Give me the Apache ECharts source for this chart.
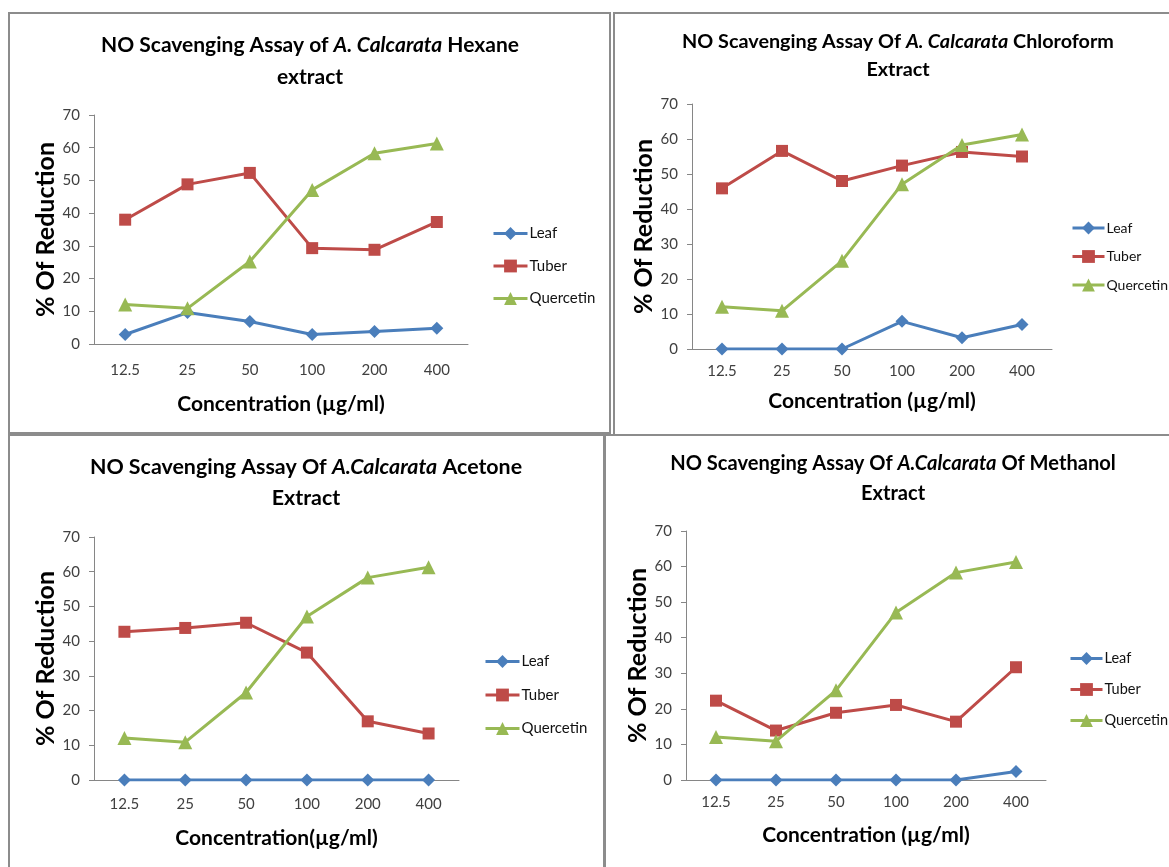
<!DOCTYPE html>
<html>
<head>
<meta charset="utf-8">
<script src="https://cdn.jsdelivr.net/npm/echarts@6/dist/echarts.min.js"></script>
<style>
html,body{margin:0;padding:0;background:#fff;}
#chart{width:1169px;height:867px;}
</style>
</head>
<body>
<div id="chart"></div>
<script>
// ---- Data ----
const categories = ['12.5', '25', '50', '100', '200', '400'];
const seriesNames = ['Leaf', 'Tuber', 'Quercetin'];
const yTicks = [0, 10, 20, 30, 40, 50, 60, 70];

const hexaneLeaf = [2.9, 9.6, 6.9, 2.9, 3.8, 4.8];
const hexaneTuber = [38.0, 48.8, 52.3, 29.3, 28.8, 37.3];
const hexaneQuercetin = [12.1, 10.9, 25.2, 47.1, 58.3, 61.3];

const chloroformLeaf = [0, 0, 0, 7.9, 3.2, 7.0];
const chloroformTuber = [45.9, 56.6, 48.0, 52.4, 56.3, 55.0];
const chloroformQuercetin = [12.1, 10.9, 25.2, 47.1, 58.3, 61.3];

const acetoneLeaf = [0, 0, 0, 0, 0, 0];
const acetoneTuber = [42.7, 43.8, 45.3, 36.7, 16.9, 13.4];
const acetoneQuercetin = [12.1, 10.9, 25.2, 47.1, 58.3, 61.3];

const methanolLeaf = [0, 0, 0, 0, 0, 2.4];
const methanolTuber = [22.3, 13.9, 18.9, 21.1, 16.4, 31.7];
const methanolQuercetin = [12.1, 10.9, 25.2, 47.1, 58.3, 61.3];

const titleParts = [
  ['NO Scavenging Assay of ', 'A. Calcarata', ' Hexane', 'extract'],
  ['NO Scavenging Assay Of ', 'A. Calcarata', ' Chloroform', 'Extract'],
  ['NO Scavenging Assay Of ', 'A.Calcarata', ' Acetone', 'Extract'],
  ['NO Scavenging Assay Of ', 'A.Calcarata', ' Of Methanol', 'Extract']
];
const xAxisTitles = ['Concentration (\u00b5g/ml)', 'Concentration (\u00b5g/ml)', 'Concentration(\u00b5g/ml)', 'Concentration (\u00b5g/ml)'];
const yAxisTitle = '% Of Reduction';

const panelData = [
  [hexaneLeaf, hexaneTuber, hexaneQuercetin],
  [chloroformLeaf, chloroformTuber, chloroformQuercetin],
  [acetoneLeaf, acetoneTuber, acetoneQuercetin],
  [methanolLeaf, methanolTuber, methanolQuercetin]
];

// ---- Layout ----
const grids = [
  {left: 94, top: 115, width: 374, height: 229},
  {left: 692, top: 104, width: 360, height: 245},
  {left: 94, top: 537, width: 365, height: 243},
  {left: 686, top: 531, width: 360, height: 249}
];
const titlePos = [
  {x: 310, y1: 45, y2: 77, size: 21},
  {x: 898, y1: 42, y2: 70, size: 19.8},
  {x: 306, y1: 467, y2: 498, size: 21.4},
  {x: 893, y1: 464, y2: 494, size: 20.1}
];
const xLabelMargin = [19, 15, 17, 15];
const xNameGap = [50, 42, 48, 45];
const yNameGap = [36, 32, 35, 34];
const legendPos = [
  {left: 492, top: 226, gap: 17.5, width: 34, size: 15},
  {left: 1071, top: 221, gap: 14.5, width: 32, size: 14},
  {left: 484, top: 654, gap: 18.5, width: 34, size: 15},
  {left: 1069, top: 651, gap: 16, width: 32, size: 14.5}
];
const colors = ['#4A7EBB', '#BE4B48', '#98B954'];
const symbols = ['diamond', 'rect', 'triangle'];
const symbolSizes = [13, 12, 14];

const font = 'Lato, "Open Sans", sans-serif';
const labelColor = '#404040';
const axisColor = '#868686';

const option = {
  animation: false,
  backgroundColor: '#ffffff',
  color: colors,
  grid: grids.map(g => Object.assign({containLabel: false}, g)),
  xAxis: grids.map((g, i) => ({
    type: 'category',
    gridIndex: i,
    data: categories,
    boundaryGap: true,
    axisLine: {lineStyle: {color: axisColor, width: 1}},
    axisTick: {show: false},
    axisLabel: {color: labelColor, fontFamily: font, fontSize: 15, margin: xLabelMargin[i]},
    name: xAxisTitles[i],
    nameLocation: 'middle',
    nameGap: xNameGap[i],
    nameTextStyle: {color: '#000', fontFamily: font, fontWeight: 'bold', fontSize: 21}
  })),
  yAxis: grids.map((g, i) => ({
    type: 'value',
    gridIndex: i,
    min: 0, max: 70, interval: 10,
    splitLine: {show: false},
    axisLine: {show: true, lineStyle: {color: axisColor, width: 1}},
    axisTick: {show: true, length: 5, lineStyle: {color: axisColor}},
    axisLabel: {color: labelColor, fontFamily: font, fontSize: 15, margin: 14},
    name: yAxisTitle,
    nameLocation: 'middle',
    nameGap: yNameGap[i],
    nameTextStyle: {color: '#000', fontFamily: font, fontWeight: 'bold', fontSize: 25}
  })),
  legend: legendPos.map(p => ({
    orient: 'vertical',
    left: p.left, top: p.top,
    padding: 0,
    itemGap: p.gap,
    itemWidth: p.width, itemHeight: 16,
    data: seriesNames,
    lineStyle: {width: 3},
    textStyle: {color: '#111', fontFamily: font, fontSize: p.size, padding: [0, 0, 0, -3]},
    selectedMode: false
  })),
  series: [],
  graphic: []
};

panelData.forEach((arrs, p) => {
  arrs.forEach((vals, s) => {
    option.series.push({
      type: 'line',
      name: seriesNames[s],
      xAxisIndex: p, yAxisIndex: p,
      data: vals,
      symbol: symbols[s],
      symbolSize: symbolSizes[s],
      lineStyle: {width: 3, color: colors[s]},
      itemStyle: {color: colors[s]},
      z: 2 + (s === 1 ? 0 : s === 0 ? 1 : 2)
    });
  });
});

// Titles
titleParts.forEach((t, i) => {
  const tp = titlePos[i];
  option.graphic.push({
    type: 'text', x: tp.x, y: tp.y1,
    style: {
      text: '{n|' + t[0] + '}{i|' + t[1] + '}{n|' + t[2] + '}',
      align: 'center', verticalAlign: 'middle',
      rich: {
        n: {fontFamily: font, fontWeight: 'bold', fontSize: tp.size, fill: '#000'},
        i: {fontFamily: font, fontWeight: 'bold', fontStyle: 'italic', fontSize: tp.size, fill: '#000'}
      }
    }
  });
  option.graphic.push({
    type: 'text', x: tp.x, y: tp.y2,
    style: {
      text: t[3], align: 'center', verticalAlign: 'middle',
      fontFamily: font, fontWeight: 'bold', fontSize: tp.size, fill: '#000'
    }
  });
});

// Panel borders
const borders = [
  {x: 9, y: 13, w: 601, h: 420},
  {x: 614, y: 13, w: 570, h: 422},
  {x: 9, y: 435, w: 596, h: 450},
  {x: 604, y: 435, w: 580, h: 450}
];
borders.forEach(b => {
  option.graphic.push({
    type: 'rect', shape: {x: b.x, y: b.y, width: b.w, height: b.h},
    style: {fill: 'none', stroke: '#8c8c8c', lineWidth: 2}, silent: true, z: -1
  });
});

const chart = echarts.init(document.getElementById('chart'), null, {renderer: 'canvas'});
chart.setOption(option);
</script>
</body>
</html>
